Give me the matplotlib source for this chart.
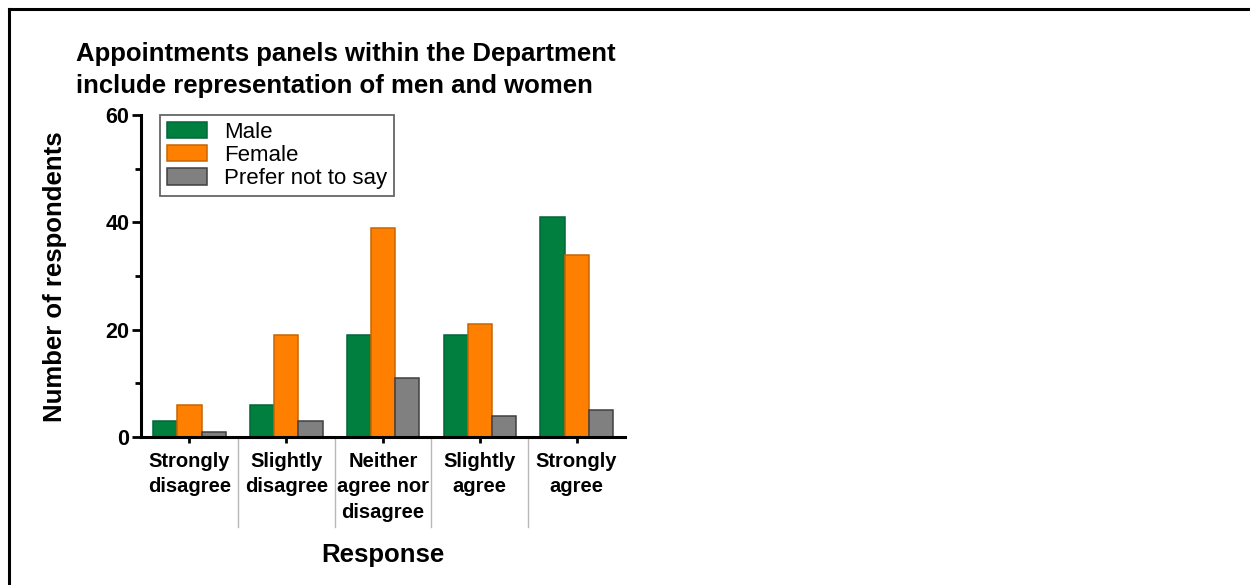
import numpy as np
import matplotlib
matplotlib.use("Agg")
import matplotlib.pyplot as plt
from matplotlib.lines import Line2D
from matplotlib.patches import Patch

plt.rcParams["font.family"] = ["Liberation Sans", "DejaVu Sans"]

# data
categories = ["Strongly\ndisagree", "Slightly\ndisagree", "Neither\nagree nor\ndisagree",
              "Slightly\nagree", "Strongly\nagree"]
series = ["Male", "Female", "Prefer not to say"]
male = [3, 6, 19, 19, 41]
female = [6, 19, 39, 21, 34]
prefer_not = [1, 3, 11, 4, 5]

fills = ["#007F3F", "#FF8000", "#808080"]
edges = ["#00663A", "#C86400", "#404040"]

fig = plt.figure(figsize=(12.5, 5.85), dpi=100)
ax = fig.add_axes([141 / 1250, 1 - 437 / 585, 484 / 1250, 322 / 585])

x = np.arange(len(categories))
w = 0.25
for i, (vals, fc, ec) in enumerate(zip([male, female, prefer_not], fills, edges)):
    ax.bar(x + (i - 1) * w, vals, width=w, color=fc, edgecolor=ec, linewidth=1.1, zorder=2)

ax.set_xlim(-0.5, 4.5)
ax.set_ylim(0, 60)
ax.set_yticks([0, 20, 40, 60])
ax.set_yticks([10, 30, 50], minor=True)
ax.set_xticks(x)
ax.set_xticklabels(categories, fontsize=14.5, fontweight="bold", linespacing=1.45)
ax.tick_params(axis="y", which="major", length=6.5, width=2, labelsize=15.5, pad=2)
ax.tick_params(axis="y", which="minor", length=4, width=2)
ax.tick_params(axis="x", length=4.5, width=2, pad=6)
for lab in ax.get_yticklabels():
    lab.set_fontweight("bold")

for s in ["top", "right"]:
    ax.spines[s].set_visible(False)
for s in ["left", "bottom"]:
    ax.spines[s].set_linewidth(2.2)

# thin separators between the category labels
trans = ax.get_xaxis_transform()
for xs in x[:-1] + 0.5:
    ax.plot([xs, xs], [0, -0.28], color="#b8b8b8", lw=1, transform=trans, clip_on=False)

handles = [Patch(facecolor=fc, edgecolor=ec, linewidth=1.1) for fc, ec in zip(fills, edges)]
leg = ax.legend(handles, series, loc="upper left", bbox_to_anchor=(160 / 1250, 1 - 115 / 585),
                bbox_transform=fig.transFigure, fontsize=16, frameon=True, fancybox=False,
                edgecolor="#404040", handlelength=1.8, handleheight=0.75, handletextpad=0.8,
                labelspacing=0.1, borderpad=0.3, borderaxespad=0)
leg.get_frame().set_linewidth(1.3)

fig.text(76 / 1250, 1 - 42 / 585,
         "Appointments panels within the Department\ninclude representation of men and women",
         fontsize=18.5, fontweight="bold", ha="left", va="top", linespacing=1.4)
fig.text(55 / 1250, 1 - 277 / 585, "Number of respondents", rotation=90,
         fontsize=18.5, fontweight="bold", ha="center", va="center")
fig.text(383 / 1250, 1 - 555 / 585, "Response", fontsize=18.5, fontweight="bold",
         ha="center", va="center")

# frame lines of the screenshot
fig.add_artist(Line2D([9 / 1250, 9 / 1250], [0, 1 - 9 / 585], color="black", lw=2.2))
fig.add_artist(Line2D([9 / 1250, 1], [1 - 9 / 585, 1 - 9 / 585], color="black", lw=2.2))

fig.savefig("out.png", dpi=100)
